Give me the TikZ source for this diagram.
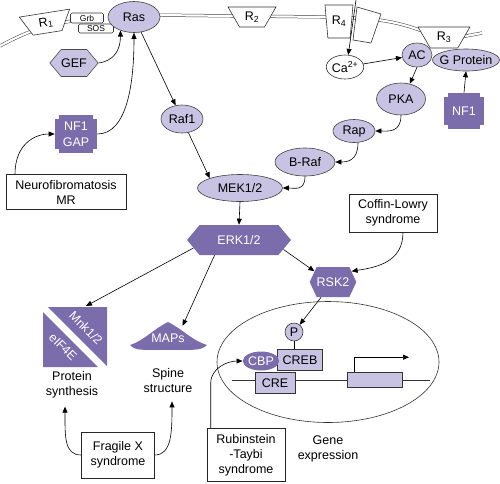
\documentclass[tikz,border=0pt]{standalone}
\usepackage{fontspec}
\setmainfont{Liberation Sans}
\usetikzlibrary{shapes.geometric,shapes.symbols,arrows.meta}
\definecolor{lightpurple}{RGB}{201,195,227}
\definecolor{darkpurple}{RGB}{123,108,172}

\begin{document}
\begin{tikzpicture}[>={Triangle[length=6pt,width=5pt]}, x=1pt, y=-1pt,
  font=\fontsize{12.5}{15}\selectfont, line width=0.6pt,
  memb/.style={draw=black!75, double=white, double distance=2.2pt, line width=0.5pt},
  recep/.style={trapezium, trapezium stretches=true, shape border rotate=180,
    draw=black!80, fill=white, inner sep=0pt},
  enz/.style={ellipse, draw=black!75, fill=lightpurple, inner xsep=-6pt, inner ysep=0pt},
  ion/.style={ellipse, draw=black!80, fill=white, inner sep=0pt},
  hexl/.style={signal, signal to=east and west, signal pointer angle=100,
    draw=black!70, fill=lightpurple, inner sep=0pt},
  hexd/.style={signal, signal to=east and west, signal pointer angle=100,
    fill=darkpurple, text=white, inner sep=0pt},
  notch/.style={rectangle, fill=darkpurple, text=white, align=center, inner sep=0pt,
    font=\fontsize{12.5}{16}\selectfont,
    path picture={
      \fill[white] (path picture bounding box.north west) rectangle +(4pt,-4pt);
      \fill[white] (path picture bounding box.north east) rectangle +(-4pt,-4pt);
      \fill[white] (path picture bounding box.south west) rectangle +(4pt,4pt);
      \fill[white] (path picture bounding box.south east) rectangle +(-4pt,4pt);}},
  tbox/.style={rectangle, draw=black!85, fill=white, align=center, inner sep=2pt},
  smallbox/.style={rectangle, rounded corners=1.5pt, draw=black!80, fill=white,
    minimum width=33pt, minimum height=10pt, inner sep=0pt, font=\fontsize{8.5}{9}\selectfont},
  dnabox/.style={rectangle, draw=black!80, fill=lightpurple, inner sep=0pt},
  lbl/.style={align=center, outer sep=5pt}]
  \useasboundingbox (0,0) rectangle (500,483);

  % membrane
  \draw[memb] (0,46) .. controls (30,30) and (55,20) .. (100,19);
  \draw[memb] (150,15) -- (330,17) .. controls (380,18) and (400,22) .. (430,34)
    -- (445,40) -- (482,33);

  % receptors
  \node[recep, trapezium left angle=63, trapezium right angle=63,
    minimum width=51pt, minimum height=20pt, rotate=9] (r1) at (46,23) {R\textsubscript{1}};
  \node[recep, trapezium left angle=58, trapezium right angle=58,
    minimum width=48pt, minimum height=20pt] (r2) at (252,17) {R\textsubscript{2}};
  \node[recep, trapezium left angle=80, trapezium right angle=80,
    minimum width=28pt, minimum height=33pt] (r4) at (339,21.5) {R\textsubscript{4}};
  \draw[fill=white, draw=black!80] (357,7) -- (381,14) -- (371,43) -- (353,40) -- cycle;
  \node[recep, trapezium left angle=59, trapezium right angle=59,
    minimum width=52pt, minimum height=21pt] (r3) at (444,37.5) {R\textsubscript{3}};

  \node[smallbox] (grb) at (87,18) {Grb};
  \node[smallbox, minimum width=35pt, minimum height=9pt] (sos) at (96,28.5) {SOS};
  \node[enz, minimum width=52pt, minimum height=31pt] (ras) at (134,17) {Ras};

  % upstream
  \node[hexl, minimum width=45pt, minimum height=27pt] (gef) at (74,63) {GEF};
  \node[notch, minimum width=42pt, minimum height=38pt] (gap) at (76,134) {NF1\\GAP};
  \node[tbox, minimum width=120pt, minimum height=35pt] (neuro) at (66,192)
    {Neurofibromatosis\\MR};
  \node[enz, minimum width=42pt, minimum height=28pt] (raf) at (182,119) {Raf1};
  \node[enz, minimum width=85pt, minimum height=27pt] (mek) at (240,188) {MEK1/2};

  \coordinate (chtop) at (356,0);
  \node[ion, minimum width=33pt, minimum height=24pt] (ca) at (345,67) {Ca\textsuperscript{2+}};
  \node[enz, minimum width=67pt, minimum height=22pt] (gprot) at (466,60) {G Protein};
  \node[enz, minimum width=30pt, minimum height=24pt] (ac) at (417,55) {AC};
  \node[enz, minimum width=49pt, minimum height=32pt] (pka) at (401,99) {PKA};
  \node[notch, minimum width=40pt, minimum height=36pt] (nf1) at (464,111) {NF1};
  \node[enz, minimum width=42pt, minimum height=23pt] (rap) at (354,131) {Rap};
  \node[enz, minimum width=60pt, minimum height=28pt] (brf) at (305,162) {B-Raf};

  \node[hexd, minimum width=104pt, minimum height=30pt] (erk) at (239,240) {ERK1/2};
  \node[tbox, minimum width=88pt, minimum height=38pt] (coffin) at (393,213)
    {Coffin-Lowry\\syndrome};
  \node[hexd, signal pointer angle=130, minimum width=43pt, minimum height=30pt]
    (rsk) at (333,282) {RSK2};

  % nucleus
  \node[ellipse, draw=black!80, minimum width=222pt, minimum height=121pt] (nucleus)
    at (328,362) {};
  \coordinate (dnal) at (232,380);
  \coordinate (dnar) at (430,380);
  \draw[draw=black!80] (dnal) -- (dnar);
  \node[circle, draw=black!80, fill=lightpurple, minimum size=18pt, inner sep=0pt] (p)
    at (294,332) {P};
  \node[dnabox, minimum width=45pt, minimum height=21pt] (creb) at (300,360) {CREB};
  \node[ellipse, fill=darkpurple, text=white, minimum width=30pt, minimum height=19pt,
    inner sep=0pt] (cbp) at (261,361) {CBP};
  \node[dnabox, minimum width=40pt, minimum height=21pt] (cre) at (275,383) {CRE};
  \node[dnabox, minimum width=55pt, minimum height=15pt] (genebox) at (375,380) {};
  \node[lbl] (gene) at (328,449) {Gene\\expression};
  \node[tbox, minimum width=78pt, minimum height=53pt] (rt) at (246,455)
    {Rubinstein\\-Taybi\\syndrome};

  % targets of ERK
  \fill[darkpurple] (48,307) -- (107,307) -- (107,366) -- cycle;
  \fill[darkpurple] (43,312) -- (43,367) -- (98,367) -- cycle;
  \node[rotate=-45, text=white, inner sep=0pt] (mnk) at (86,328) {Mnk1/2};
  \node[rotate=-45, text=white, inner sep=0pt] (eif) at (63,347) {eIF4E};
  \coordinate (mnktop) at (86,306);
  \fill[darkpurple] (130,345) .. controls (145,340) and (152,330) .. (168,322)
    .. controls (184,330) and (191,340) .. (207,345)
    .. controls (200,352) and (190,349) .. (168,350)
    .. controls (146,349) and (136,352) .. (130,345) -- cycle;
  \node[text=white, minimum width=60pt, minimum height=24pt] (maps) at (168,338) {MAPs};
  \node[lbl] (protein) at (72,385) {Protein\\synthesis};
  \node[lbl] (spine) at (168,381) {Spine\\structure};
  \node[tbox, minimum width=73pt, minimum height=46pt] (frag) at (118,455)
    {Fragile X\\syndrome};

  % connectors
  \draw[->] (gef.east) .. controls +(15,-2) and +(0,20) .. (ras.225);
  \draw[->] (gap.east) .. controls +(30,0) and +(0,50) .. (ras.south);
  \draw[->] ([xshift=-51pt]neuro.north) .. controls +(0,-30) and +(-20,0) .. (gap.west);
  \draw[->] (ras) -- (raf);
  \draw[->] (raf) -- (mek.north west);
  \draw[->] (chtop) -- (ca.75);
  \draw[->] (ca) -- (ac);
  \draw[->] (ac.south) -- (pka.60);
  \draw[->] (nf1.north) -- (gprot.south);
  \draw[->] (pka.south) .. controls +(0,18) and +(12,0) .. (rap.east);
  \draw[->] ([xshift=4pt]rap.south) .. controls +(0,18) and +(12,0) .. (brf.east);
  \draw[->] (brf.south) .. controls +(0,15) and +(12,0) .. (mek.east);
  \draw[->] (mek.south) -- (erk.north);
  \draw[->] (erk.-12) -- (rsk.150);
  \draw[->] ([xshift=10pt]coffin.south) .. controls +(0,30) and +(25,-4) .. (rsk.30);
  \draw[->] (rsk) -- (p);
  \draw (p.south) -- (p.south |- creb.north);
  \draw[->] ([xshift=-21pt]genebox.north) -- ++(0,-15) -- ++(55,0);
  \draw[->] ([xshift=4pt]rt.north west) -- ++(0,-45)
    .. controls +(0,-15) and +(-15,0) .. (cbp.west);
  \draw[->] (erk.190) -- (mnktop);
  \draw[->] (erk.212) -- (maps.40);
  \draw[->] (frag.west) .. controls +(-17,0) and +(0,30) .. ([xshift=-7pt]protein.south);
  \draw[->] (frag.east) .. controls +(17,0) and +(0,30) .. ([xshift=4pt]spine.south);
\end{tikzpicture}
\end{document}
